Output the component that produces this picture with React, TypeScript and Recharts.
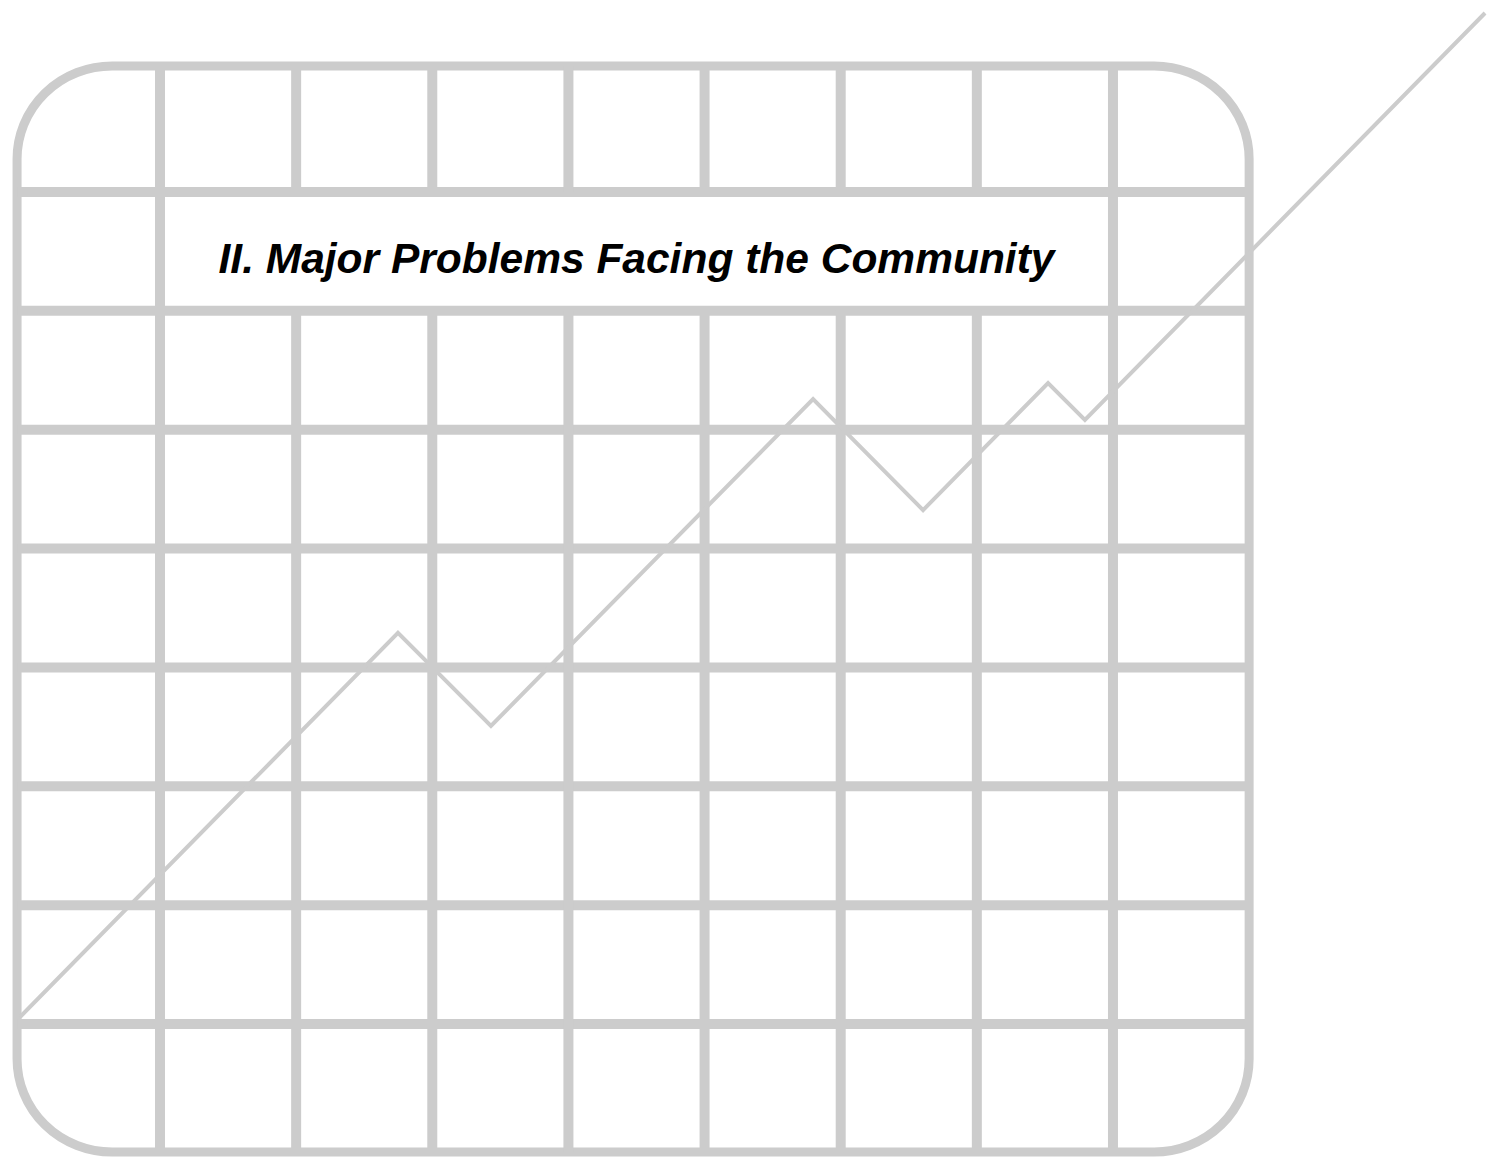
import { LineChart, Line, XAxis, YAxis, ReferenceLine, ReferenceArea } from "recharts";

// grid is measured in cell units: columns 0..7, rows 0..7 (row 0 at the bottom)
const gridCols = [0, 1, 2, 3, 4, 5, 6, 7];
const gridRows = [0, 1, 2, 3, 4, 5, 6, 7];

// outer rounded frame, in the same units
const frameLeft = -1.05;
const frameRight = 8;
const frameBottom = -1.077;
const frameTop = 8.06;

// title cell sits between these columns and rows
const titleColFrom = 0;
const titleColTo = 7;
const titleRowFrom = 6;
const titleRowTo = 7;
const title = "II. Major Problems Facing the Community";

// the zig-zag trend line
const trendX = [-1.028, 1.748, 2.431, 4.797, 5.605, 6.523, 6.794, 9.733];
const trendY = [0.059, 3.29, 2.507, 5.258, 4.324, 5.393, 5.082, 8.506];

const trend = trendX.map((x, i) => ({ x, y: trendY[i] }));

const GREY = "#cccccc";

function verticalSegments(c: number) {
  if (c > titleColFrom && c < titleColTo) {
    return [
      [frameBottom, titleRowFrom],
      [titleRowTo, frameTop],
    ];
  }
  return [[frameBottom, frameTop]];
}

export default function App() {
  return (
    <div style={{ position: "absolute", left: 0, top: 0 }}>
      <LineChart
        width={1489}
        height={1159}
        data={trend}
        margin={{ top: 0, right: 0, bottom: 0, left: 0 }}
      >
        <XAxis
          type="number"
          dataKey="x"
          domain={[-1.1753, 9.762]}
          allowDataOverflow
          hide
        />
        <YAxis type="number" domain={[-1.1358, 8.6152]} allowDataOverflow hide />

        <ReferenceArea
          x1={frameLeft}
          x2={frameRight}
          y1={frameBottom}
          y2={frameTop}
          shape={(p: any) => (
            <rect
              x={p.x}
              y={p.y}
              width={p.width}
              height={p.height}
              rx={95}
              ry={93}
              fill="none"
              stroke={GREY}
              strokeWidth={9}
            />
          )}
        />

        {gridRows.map((r) => (
          <ReferenceLine
            key={`h${r}`}
            segment={[
              { x: frameLeft, y: r },
              { x: frameRight, y: r },
            ]}
            stroke={GREY}
            strokeWidth={10}
          />
        ))}

        {gridCols.map((c) =>
          verticalSegments(c).map(([y1, y2]) => (
            <ReferenceLine
              key={`v${c}-${y1}`}
              segment={[
                { x: c, y: y1 },
                { x: c, y: y2 },
              ]}
              stroke={GREY}
              strokeWidth={10}
            />
          ))
        )}

        <ReferenceArea
          x1={titleColFrom}
          x2={titleColTo}
          y1={titleRowFrom}
          y2={titleRowTo}
          shape={(p: any) => (
            <text
              x={p.x + p.width / 2}
              y={p.y + p.height / 2 + 22}
              textAnchor="middle"
              fontFamily="'Liberation Sans', Arial, sans-serif"
              fontWeight="bold"
              fontStyle="italic"
              fontSize={42.5}
              fill="#000000"
            >
              {title}
            </text>
          )}
        />

        <Line
          type="linear"
          dataKey="y"
          stroke={GREY}
          strokeWidth={4}
          dot={false}
          activeDot={false}
          isAnimationActive={false}
        />
      </LineChart>
    </div>
  );
}
